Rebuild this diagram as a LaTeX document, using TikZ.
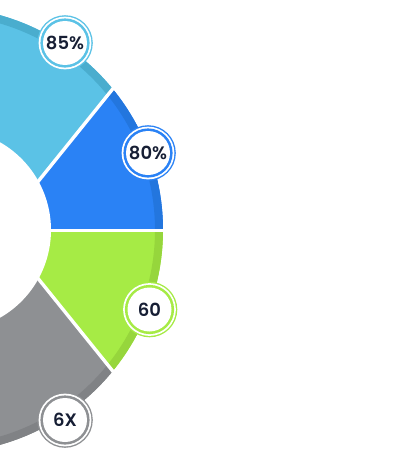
\documentclass[tikz,border=0pt]{standalone}
\usepackage{fontspec}
\newfontfamily\lblfont{Poppins}[UprightFont=* SemiBold]
\definecolor{lb}{RGB}{91,194,230}
\definecolor{lbd}{RGB}{74,173,206}
\definecolor{bl}{RGB}{42,130,245}
\definecolor{bld}{RGB}{35,118,222}
\definecolor{gr}{RGB}{166,235,69}
\definecolor{grd}{RGB}{150,214,60}
\definecolor{gy}{RGB}{142,144,147}
\definecolor{gyd}{RGB}{128,130,133}
\definecolor{txt}{RGB}{22,30,52}
\tikzset{
  lbl/.style={font=\lblfont\fontsize{18}{20}\selectfont, text=txt, inner sep=0pt},
  divider/.style={draw=white, line width=3.4pt}
}
\newcommand{\badge}[2]{%
  \fill[#2] (#1) circle (27.8);
  \fill[white] (#1) circle (26.4);
  \fill[#2] (#1) circle (24.6);
  \fill[white] (#1) circle (22.0);
}
\begin{document}
\begin{tikzpicture}[x=1pt,y=-1pt]
\useasboundingbox (0,0) rectangle (408,463);
\fill[white] (0,0) rectangle (408,463);
\coordinate (oc) at (-60,230);
\coordinate (ic) at (-50,230);
\coordinate (hub) at (-1,230);
\coordinate (ta) at (265,-100);
\coordinate (tb) at (265,560);
\coordinate (he) at (400,230);
% main colours
\begin{scope}
  \clip (oc) circle (223);
  \fill[lb] (-100,-100) -- (ta) -- (hub) -- (-100,230) -- cycle;
  \fill[bl] (ta) -- (400,-100) -- (he) -- (hub) -- cycle;
  \fill[gr] (hub) -- (he) -- (400,560) -- (tb) -- cycle;
  \fill[gy] (hub) -- (tb) -- (-100,560) -- (-100,230) -- cycle;
\end{scope}
% darker outer band
\begin{scope}[even odd rule]
  \clip (oc) circle (223) (oc) circle (215);
  \fill[lbd] (-100,-100) -- (ta) -- (hub) -- (-100,230) -- cycle;
  \fill[bld] (ta) -- (400,-100) -- (he) -- (hub) -- cycle;
  \fill[grd] (hub) -- (he) -- (400,560) -- (tb) -- cycle;
  \fill[gyd] (hub) -- (tb) -- (-100,560) -- (-100,230) -- cycle;
\end{scope}
% hole
\fill[white] (ic) circle (101);
% dividers
\draw[divider] (hub) -- (ta);
\draw[divider] (hub) -- (tb);
\draw[divider, line width=3pt] (hub) -- (he);
% badges
\coordinate (b85) at (65,43);
\coordinate (b80) at (148,153);
\coordinate (b60) at (149.5,309.5);
\coordinate (b6x) at (65,420);
\badge{b85}{lb}
\badge{b80}{bl}
\badge{b60}{gr}
\badge{b6x}{gy}
\node[lbl] (n85) at (b85) {85\%};
\node[lbl] (n80) at (b80) {80\%};
\node[lbl] (n60) at (b60) {60};
\node[lbl] (n6x) at (b6x) {6X};
\end{tikzpicture}
\end{document}
